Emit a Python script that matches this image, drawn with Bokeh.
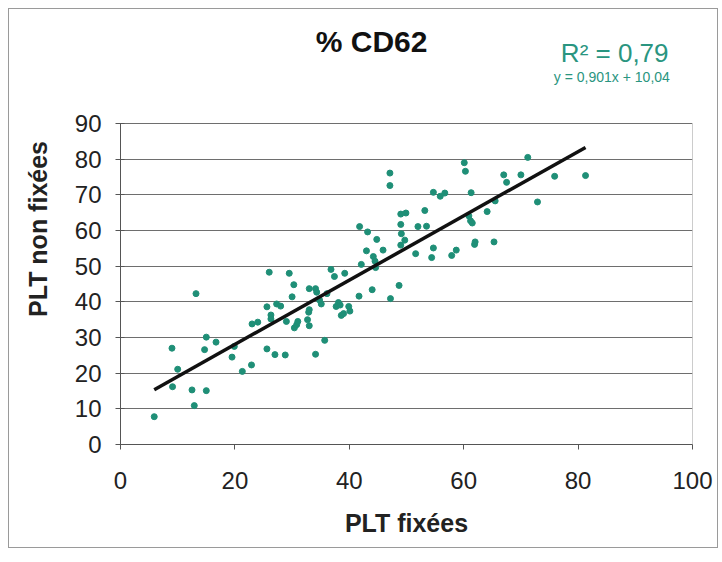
from bokeh.plotting import figure
from bokeh.models import Label, Range1d, FixedTicker
from bokeh.embed import file_html
from bokeh.resources import INLINE

# Data (PLT fixées vs PLT non fixées, % CD62)
x_vals = [5.9, 9.0, 9.1, 10.0, 12.5, 12.9, 13.2, 14.7, 15.0, 15.0, 16.7, 19.5, 19.9,
          21.3, 22.9, 23.0, 24.0, 25.6, 25.6, 26.0, 26.3, 26.3, 27.0, 27.3, 28.0, 28.8,
          29.0, 29.5, 30.0, 30.3, 30.4, 30.8, 31.0, 32.7, 32.9, 33.0, 33.0, 33.0, 34.1,
          34.3, 34.1, 34.8, 35.1, 35.7, 36.1, 36.8, 37.4, 37.7, 38.1, 38.4, 38.6, 39.0,
          39.2, 39.9, 40.1, 41.7, 41.8, 42.1, 43.0, 43.2, 44.0, 44.2, 44.5, 44.6, 44.8,
          45.9, 47.1, 47.1, 47.2, 48.7, 49.0, 49.0, 49.1, 49.0, 49.7, 49.9, 51.6, 52.0,
          53.2, 53.5, 54.4, 54.7, 54.7, 55.9, 56.7, 57.9, 58.7, 60.1, 60.3, 60.9, 61.2,
          61.5, 61.3, 61.9, 62.0, 64.1, 65.3, 65.5, 67.0, 67.5, 70.0, 71.2, 72.9, 75.9,
          81.3]
y_vals = [7.8, 27.0, 16.2, 21.1, 15.3, 10.9, 42.3, 26.6, 30.1, 15.1, 28.7, 24.5, 27.5,
          20.5, 22.3, 33.8, 34.3, 26.8, 38.6, 48.3, 36.3, 35.2, 25.2, 39.4, 38.8, 25.1,
          34.5, 48.0, 41.4, 44.8, 32.7, 33.6, 34.5, 35.0, 37.1, 37.8, 33.3, 43.7, 43.7,
          42.7, 25.3, 40.5, 39.4, 29.2, 42.3, 49.1, 47.1, 38.7, 39.8, 39.1, 36.2, 36.7,
          48.0, 38.7, 37.4, 41.6, 61.1, 50.5, 54.3, 59.6, 43.4, 52.7, 51.4, 49.6, 57.5,
          54.5, 76.1, 72.6, 40.9, 44.6, 61.7, 64.6, 59.1, 55.9, 57.3, 64.9, 53.5, 61.1,
          65.6, 61.2, 52.4, 55.1, 70.7, 69.6, 70.5, 53.0, 54.5, 79.0, 76.6, 64.1, 62.7,
          62.1, 70.6, 56.1, 56.8, 65.3, 56.8, 68.3, 75.6, 73.5, 75.6, 80.5, 68.0, 75.2,
          75.4]

slope = 0.901
intercept = 10.04
title_text = "% CD62"
r2_text = "R² = 0,79"
eq_text = "y = 0,901x + 10,04"
x_label = "PLT fixées"
y_label = "PLT non fixées"
x_ticks = [0, 20, 40, 60, 80, 100]
y_ticks = [0, 10, 20, 30, 40, 50, 60, 70, 80, 90]
x_max = 100
y_max = 90

FONT = "Liberation Sans"
TEAL = "#1f8f77"

# frame extends above the plot area so that title and equation texts live inside it
frame_h = 431
plot_h = 321
y_top = y_max * frame_h / plot_h

p = figure(width=710, height=540, output_backend="svg", toolbar_location=None,
           x_range=Range1d(0, x_max), y_range=Range1d(0, y_top),
           min_border_left=111, min_border_right=27, min_border_top=4,
           min_border_bottom=105)
p.styles = {"border": "1px solid #9a9a9a", "margin-left": "8px", "margin-top": "8px"}

p.background_fill_color = "white"
p.border_fill_color = "white"
p.outline_line_color = None

# grid (line at 90 doubles as top border of the plot area)
p.xgrid.visible = False
p.ygrid.ticker = FixedTicker(ticks=y_ticks)
p.ygrid.grid_line_color = "#6e6e6e"
p.ygrid.grid_line_width = 1

# right border of the plot area
p.segment(x0=[x_max], y0=[0], x1=[x_max], y1=[y_max], line_color="#9a9a9a", line_width=1)

# axes
p.xaxis.ticker = FixedTicker(ticks=x_ticks)
p.yaxis.ticker = FixedTicker(ticks=y_ticks)
p.yaxis.bounds = (0, y_max)
for ax in (p.xaxis[0], p.yaxis[0]):
    ax.axis_line_color = "#555555"
    ax.major_tick_line_color = "#555555"
    ax.minor_tick_line_color = None
    ax.major_label_text_font = FONT
    ax.major_label_text_font_size = "24px"
    ax.major_label_text_color = "#222222"
    ax.axis_label_text_font = FONT
    ax.axis_label_text_font_style = "bold"
    ax.axis_label_text_font_size = "25px"
    ax.axis_label_text_color = "#222222"

p.xaxis.axis_label = x_label
p.yaxis.axis_label = y_label
p.xaxis.major_tick_out = 5
p.xaxis.major_tick_in = 0
p.yaxis.major_tick_out = 5
p.yaxis.major_tick_in = 4
p.xaxis.major_label_standoff = 22
p.yaxis.major_label_standoff = 14
p.xaxis.axis_label_standoff = 17
p.yaxis.axis_label_standoff = 20

# points
p.scatter(x_vals, y_vals, size=6, fill_color=TEAL, line_color=TEAL, marker="circle")

# trend line
x0, x1 = min(x_vals), max(x_vals)
p.line([x0, x1], [slope * x0 + intercept, slope * x1 + intercept],
       line_color="#111111", line_width=3.5)

# texts
p.add_layout(Label(x=43.9, y=113.0, text=title_text,
                   text_font=FONT, text_font_style="bold", text_font_size="30px",
                   text_align="center", text_baseline="alphabetic", text_color="#111111"))
p.add_layout(Label(x=86.4, y=109.9, text=r2_text,
                   text_font=FONT, text_font_size="26px", text_align="center",
                   text_baseline="alphabetic", text_color="#2a9580"))
p.add_layout(Label(x=85.9, y=103.0, text=eq_text,
                   text_font=FONT, text_font_size="14px", text_align="center",
                   text_baseline="alphabetic", text_color="#2a9580"))

open("out.html", "w").write(file_html(p, INLINE))
